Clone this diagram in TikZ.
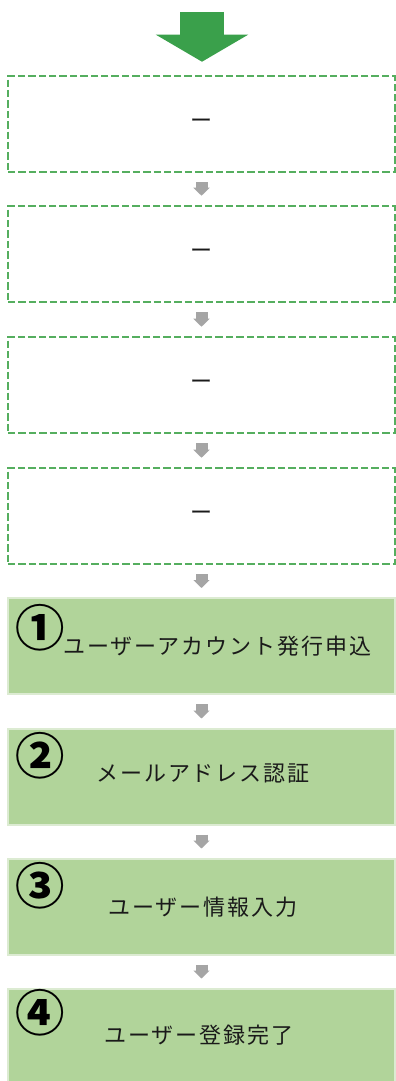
\documentclass[tikz,border=0pt]{standalone}
\usepackage{fontspec}
\newfontfamily\jp{Noto Sans CJK JP}[LetterSpace=9]
\newfontfamily\jpplain{Noto Sans CJK JP}
\usetikzlibrary{arrows.meta}
\definecolor{dashgreen}{HTML}{55AE5F}
\definecolor{bigarrow}{HTML}{3AA04B}
\definecolor{boxfill}{HTML}{B1D49A}
\definecolor{boxline}{HTML}{DCEBD2}
\definecolor{arrgray}{HTML}{A5A5A5}
\definecolor{txt}{HTML}{1A1A1A}
\begin{document}
\begin{tikzpicture}[x=0.75pt,y=-0.75pt,
  dbox/.style={draw=dashgreen, line width=1.9pt, dash pattern=on 5.6pt off 2.2pt,
    fill=white, minimum width=290.25pt, minimum height=72pt, inner sep=0pt,
    font=\jpplain\fontsize{16.5}{18}\selectfont, text=txt},
  gbox/.style={draw=boxline, line width=1.5pt, fill=boxfill,
    minimum width=290.25pt, minimum height=72pt, inner sep=0pt},
  steptext/.style={font=\jp\fontsize{16.5}{18}\selectfont, text=txt, inner sep=0pt},
  numtext/.style={font=\jpplain\bfseries\fontsize{37}{40}\selectfont, text=black, inner sep=0pt},
  flowarrow/.style={draw=arrgray, line width=9pt, shorten <=6.75pt, shorten >=6.75pt,
    -{Triangle[width=12pt,length=6pt]}},
  entryarrow/.style={draw=bigarrow, line width=33pt, shorten >=9.75pt,
    -{Triangle[width=68.25pt,length=20.25pt]}}
]
\useasboundingbox (0,0) rectangle (396,1081);
\fill[white] (0,0) rectangle (396,1081);

\node[dbox] (b1) at (201.5,124) {ー};
\node[dbox] (b2) at (201.5,254) {ー};
\node[dbox] (b3) at (201.5,385) {ー};
\node[dbox] (b4) at (201.5,516) {ー};
\node[gbox] (b5) at (201.5,646) {};
\node[gbox] (b6) at (201.5,776.5) {};
\node[gbox] (b7) at (201.5,906.5) {};
\node[gbox] (b8) at (201.5,1036.5) {};

\coordinate (start) at (202,12);
\draw[entryarrow] (start) -- (b1.north -| start);

\draw[flowarrow] (b1.south) -- (b2.north);
\draw[flowarrow] (b2.south) -- (b3.north);
\draw[flowarrow] (b3.south) -- (b4.north);
\draw[flowarrow] (b4.south) -- (b5.north);
\draw[flowarrow] (b5.south) -- (b6.north);
\draw[flowarrow] (b6.south) -- (b7.north);
\draw[flowarrow] (b7.south) -- (b8.north);

\node[numtext] (n1) at (40,628) {①};
\node[numtext] (n2) at (40,756) {②};
\node[numtext] (n3) at (40,886) {③};
\node[numtext] (n4) at (40,1013) {④};

\node[steptext, anchor=west] (t1) at (63,646) {ユーザーアカウント発行申込};
\node[steptext] (t2) at (203,774) {メールアドレス認証};
\node[steptext] (t3) at (203,907) {ユーザー情報入力};
\node[steptext] (t4) at (199,1035) {ユーザー登録完了};
\end{tikzpicture}
\end{document}
